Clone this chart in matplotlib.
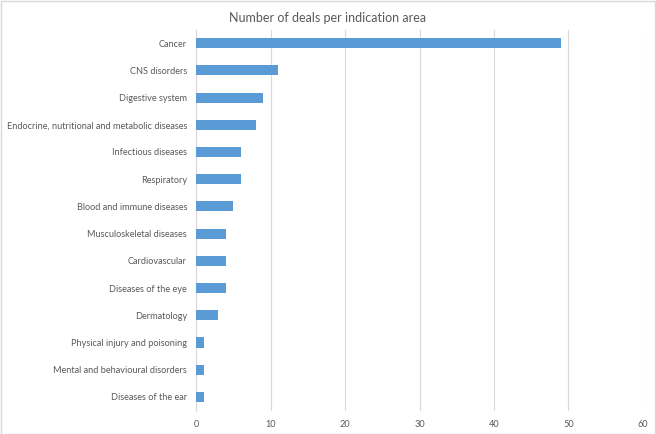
import matplotlib
matplotlib.use("Agg")
import matplotlib.pyplot as plt

categories = ["Cancer", "CNS disorders", "Digestive system",
              "Endocrine, nutritional and metabolic diseases", "Infectious diseases",
              "Respiratory", "Blood and immune diseases", "Musculoskeletal diseases",
              "Cardiovascular", "Diseases of the eye", "Dermatology",
              "Physical injury and poisoning", "Mental and behavioural disorders",
              "Diseases of the ear"]
deals = [49, 11, 9, 8, 6, 6, 5, 4, 4, 4, 3, 1, 1, 1]
xticks = [0, 10, 20, 30, 40, 50, 60]

plt.rcParams['font.family'] = ['Lato', 'DejaVu Sans']
grey = "#595959"

fig = plt.figure(figsize=(6.56, 4.34), dpi=100)
ax = fig.add_axes([0.299, 0.054, 0.681, 0.878])

ypos = list(range(len(categories)))
ax.barh(ypos, deals, height=0.37, color="#5B9BD5", zorder=3)
ax.set_ylim(len(categories) - 0.5, -0.5)
ax.set_yticks(ypos)
ax.set_yticklabels(categories, fontsize=6.6, color=grey)
ax.set_xlim(0, 60)
ax.set_xticks(xticks)
ax.set_xticklabels([str(t) for t in xticks], fontsize=6.6, color=grey)
ax.xaxis.grid(True, color="#D9D9D9", linewidth=0.8, zorder=0)
ax.tick_params(axis="y", length=0, pad=6.5)
ax.tick_params(axis="x", length=0, pad=7)
for s in ["top", "right", "bottom"]:
    ax.spines[s].set_visible(False)
ax.spines["left"].set_color("#D9D9D9")

fig.text(0.5, 0.959, "Number of deals per indication area", ha="center", va="center",
         fontsize=9, color=grey)

# light border round the chart
fig.patches.append(plt.Rectangle((0.001, 0.001), 0.997, 0.997, transform=fig.transFigure,
                                 fill=False, edgecolor="#D9D9D9", linewidth=1))

fig.savefig("out.png", dpi=100)
